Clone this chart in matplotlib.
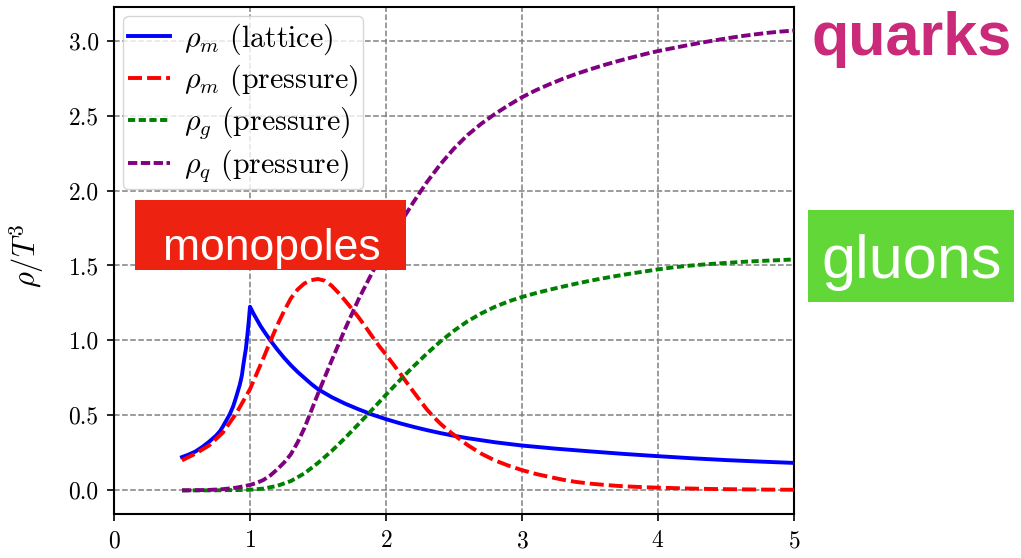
import matplotlib
matplotlib.use("Agg")
import matplotlib.pyplot as plt
from matplotlib.patches import Rectangle

plt.rcParams['font.family'] = 'serif'
plt.rcParams['font.serif'] = ['cmr10']
plt.rcParams['mathtext.fontset'] = 'cm'
plt.rcParams['axes.formatter.use_mathtext'] = True

# ---------------- data ----------------
lattice_x = [0.5, 0.55, 0.6, 0.65, 0.7, 0.75, 0.78, 0.8, 0.85, 0.877, 0.9, 0.925,
             0.94, 0.95, 0.96, 0.97, 0.98, 0.99, 1.0,
             1.025, 1.05, 1.075, 1.1, 1.15, 1.2, 1.25, 1.3, 1.35, 1.4, 1.45, 1.5,
             1.6, 1.7, 1.8, 1.9, 2.0, 2.1, 2.2, 2.3, 2.4, 2.5, 2.6, 2.8, 3.0,
             3.25, 3.5, 3.75, 4.0, 4.25, 4.5, 4.75, 5.0]
lattice_m = [0.222, 0.239, 0.26, 0.29, 0.325, 0.365, 0.396, 0.425, 0.505, 0.562, 0.628, 0.705,
             0.765, 0.83, 0.89, 0.945, 1.03, 1.12, 1.225,
             1.18, 1.14, 1.10, 1.065, 1.0, 0.94, 0.885, 0.835, 0.79, 0.75, 0.71, 0.675,
             0.622, 0.578, 0.54, 0.505, 0.475, 0.448, 0.424, 0.402, 0.382, 0.364, 0.348, 0.321, 0.299,
             0.278, 0.26, 0.243, 0.228, 0.214, 0.202, 0.192, 0.183]

mono_x = [0.5, 0.6, 0.7, 0.8, 0.9, 1.0, 1.05, 1.1, 1.15, 1.2, 1.25, 1.3, 1.35, 1.4,
          1.45, 1.5, 1.55, 1.6, 1.65, 1.7, 1.75, 1.8, 1.85, 1.9, 1.95, 2.0, 2.05,
          2.1, 2.15, 2.2, 2.25, 2.3, 2.35, 2.4, 2.45, 2.5, 2.6, 2.7, 2.8, 2.9, 3.0,
          3.1, 3.2, 3.3, 3.4, 3.5, 3.6, 3.7, 3.8, 3.9, 4.0, 4.2, 4.4, 4.6, 4.8, 5.0]
pressure_m = [0.20, 0.245, 0.30, 0.385, 0.515, 0.675, 0.78, 0.885, 0.995, 1.10, 1.195,
              1.28, 1.34, 1.38, 1.402, 1.41, 1.398, 1.365, 1.318, 1.265, 1.21, 1.152,
              1.09, 1.025, 0.962, 0.905, 0.845, 0.785, 0.722, 0.66, 0.6, 0.54, 0.49,
              0.445, 0.405, 0.37, 0.302, 0.245, 0.2, 0.165, 0.135, 0.11, 0.09, 0.071,
              0.056, 0.045, 0.037, 0.03, 0.025, 0.021, 0.018, 0.013, 0.009, 0.007,
              0.005, 0.004]

gluon_x = [0.5, 0.6, 0.7, 0.8, 0.9, 1.0, 1.1, 1.2, 1.3, 1.4, 1.5, 1.6, 1.7, 1.8, 1.9,
           2.0, 2.1, 2.2, 2.3, 2.4, 2.5, 2.6, 2.7, 2.8, 2.9, 3.0, 3.1, 3.2, 3.3, 3.4,
           3.5, 3.6, 3.7, 3.8, 3.9, 4.0, 4.1, 4.2, 4.3, 4.4, 4.5, 4.6, 4.7, 4.8, 4.9, 5.0]
pressure_g = [0.0, 0.0, 0.0, 0.001, 0.002, 0.004, 0.012, 0.03, 0.062, 0.113, 0.183,
              0.262, 0.35, 0.444, 0.54, 0.638, 0.733, 0.825, 0.912, 0.993, 1.065, 1.128,
              1.18, 1.224, 1.26, 1.29, 1.315, 1.338, 1.359, 1.379, 1.398, 1.415, 1.431,
              1.446, 1.46, 1.474, 1.486, 1.496, 1.504, 1.511, 1.517, 1.523, 1.528,
              1.532, 1.536, 1.540]

quark_x = [0.5, 0.6, 0.7, 0.8, 0.9, 1.0, 1.05, 1.1, 1.15, 1.2, 1.25, 1.3, 1.35, 1.4,
           1.45, 1.5, 1.55, 1.6, 1.7, 1.8, 1.9, 2.0, 2.1, 2.2, 2.3, 2.4, 2.5, 2.6,
           2.7, 2.8, 2.9, 3.0, 3.1, 3.2, 3.3, 3.4, 3.5, 3.6, 3.7, 3.8, 3.9, 4.0, 4.1,
           4.2, 4.3, 4.4, 4.5, 4.6, 4.7, 4.8, 4.9, 5.0]
pressure_q = [0.0, 0.001, 0.003, 0.008, 0.018, 0.036, 0.05, 0.07, 0.1, 0.14, 0.185,
              0.24, 0.32, 0.415, 0.53, 0.645, 0.755, 0.865, 1.078, 1.278, 1.455, 1.62,
              1.775, 1.92, 2.055, 2.175, 2.28, 2.37, 2.445, 2.51, 2.568, 2.622, 2.668,
              2.708, 2.745, 2.778, 2.808, 2.836, 2.862, 2.886, 2.909, 2.93, 2.948,
              2.966, 2.983, 2.999, 3.014, 3.028, 3.04, 3.051, 3.06, 3.067]

labels = [r'$\rho_m$ (lattice)', r'$\rho_m$ (pressure)',
          r'$\rho_g$ (pressure)', r'$\rho_q$ (pressure)']
ylabel = r'$\rho/T^3$'
xticks = [0, 1, 2, 3, 4, 5]
yticks = [0.0, 0.5, 1.0, 1.5, 2.0, 2.5, 3.0]

# ---------------- figure ----------------
W, H = 1021, 558
fig = plt.figure(figsize=(W / 100, H / 100), dpi=100)
ax = fig.add_axes([114 / W, 1 - 513.6 / H, 680 / W, (513.6 - 7.3) / H])

lw = 2.8
ax.plot(lattice_x, lattice_m, color='blue', lw=lw, label=labels[0], zorder=3)
ax.plot(mono_x, pressure_m, color='red', lw=lw, dashes=(3.6, 1.3), label=labels[1], zorder=3)
ax.plot(gluon_x, pressure_g, color='green', lw=lw, dashes=(1.85, 0.9), label=labels[2], zorder=3)
ax.plot(quark_x, pressure_q, color='purple', lw=lw, dashes=(2.4, 0.9), label=labels[3], zorder=3)

ax.set_xlim(0, 5)
ax.set_ylim(-0.155, 3.222)
ax.set_xticks(xticks)
ax.set_yticks(yticks)
ax.set_yticklabels([f'{v:.1f}' for v in yticks])
ax.tick_params(labelsize=17, width=1.2, length=5)
ax.tick_params(axis='y', pad=6)
ax.tick_params(axis='x', pad=7)
for s in ax.spines.values():
    s.set_linewidth(1.5)
ax.grid(True, color='gray', linestyle='--', linewidth=1.1, zorder=0)
ax.set_axisbelow(True)

ax.set_ylabel(ylabel, fontsize=22)
ax.yaxis.set_label_coords(-0.10, 0.51)

ax.legend(loc='upper left', fontsize=21.5, handlelength=1.4, handletextpad=0.45,
          borderaxespad=0.3, borderpad=0.18, labelspacing=0.2)

# ---------------- annotations ----------------
sans = 'Liberation Sans'
fig.add_artist(Rectangle((135 / W, 1 - 269.7 / H), 270.7 / W, 70 / H,
                         transform=fig.transFigure, facecolor='#EE2210',
                         edgecolor='none', zorder=5))
fig.text(271.7 / W, 1 - 259.7 / H, 'monopoles', color='white', fontsize=32,
         family=sans, ha='center', va='baseline', zorder=6)

fig.add_artist(Rectangle((808.3 / W, 1 - 301.7 / H), 206 / W, 91.7 / H,
                         transform=fig.transFigure, facecolor='#62D838',
                         edgecolor='none', zorder=5))
fig.text(911.7 / W, 1 - 278.3 / H, 'gluons', color='white', fontsize=44,
         family=sans, ha='center', va='baseline', zorder=6)

fig.text(911.7 / W, 1 - 55 / H, 'quarks', color='#CB2A7A', fontsize=44,
         family=sans, fontweight='bold', ha='center', va='baseline', zorder=6)

fig.savefig('out.png', dpi=100)
